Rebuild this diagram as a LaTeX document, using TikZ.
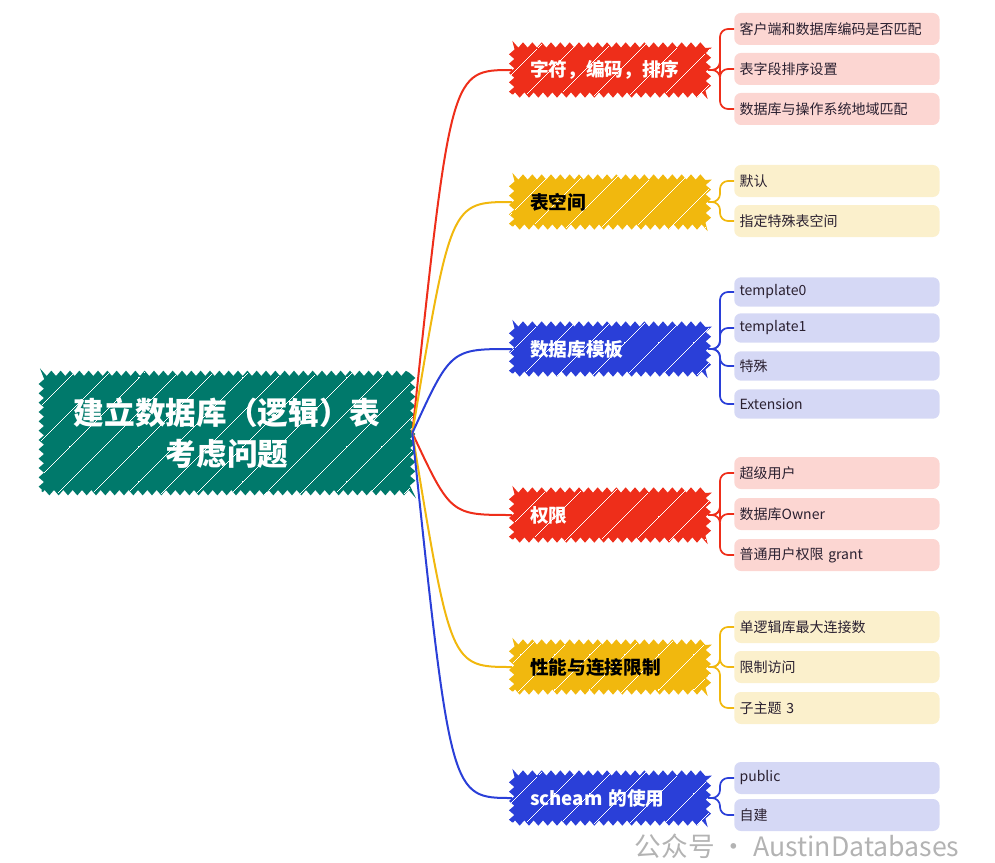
\documentclass[tikz,border=0pt]{standalone}
\usepackage{fontspec}
\setmainfont{Noto Sans CJK SC}
\usetikzlibrary{positioning,calc,decorations.pathmorphing,patterns.meta}

\definecolor{rootc}{HTML}{00796B}
\definecolor{redc}{HTML}{EE2E1A}
\definecolor{yelc}{HTML}{F1B80E}
\definecolor{bluc}{HTML}{2A3FD8}
\definecolor{redl}{HTML}{FCD6D2}
\definecolor{yell}{HTML}{FBF0CC}
\definecolor{blul}{HTML}{D5D8F5}
\definecolor{ink}{HTML}{2A2030}

\tikzdeclarepattern{name=strokes,type=uncolored,
  bounding box={(-1pt,-1pt) and (27pt,27pt)},tile size={(26pt,26pt)},
  line width=0.5pt,code={\draw (0,0)--(26pt,26pt);}}

\begin{document}
\begin{tikzpicture}[x=0.75pt,y=-0.75pt,
sketch/.style={decorate,decoration={zigzag,segment length=7pt,amplitude=2pt},fill=#1,draw=#1,line width=1pt,postaction={pattern=strokes,pattern color=white}},
topic/.style={sketch=#1,anchor=west,text width=120pt,inner xsep=13pt,minimum height=36pt,align=left,font=\bfseries\fontsize{14}{17}\selectfont,text=white},
leaf/.style={fill=#1,rounded corners=5pt,anchor=west,text width=146pt,inner xsep=4pt,minimum height=24pt,align=left,font=\fontsize{10.5}{12}\selectfont,text=ink},
edge/.style={line width=1.5pt,draw=#1},
twig/.style={line width=1.3pt,draw=#1,rounded corners=6pt}]
\useasboundingbox (0,0) rectangle (995,863);

% centre and main topics
\node[sketch=rootc,text=white,align=center,minimum width=277pt,minimum height=88pt,font=\bfseries\fontsize{23}{31}\selectfont] (root) at (227,433) {建立数据库（逻辑）表\\考虑问题};
\node[topic=redc] (charset) at (512,70) {字符，编码，排序};
\node[topic=yelc,text=black] (tbsp) at (512,202) {表空间};
\node[topic=bluc] (tmpl) at (512,349) {数据库模板};
\node[topic=redc] (priv) at (512,515) {权限};
\node[topic=yelc,text=black] (perf) at (512,667) {性能与连接限制};
\node[topic=bluc] (schema) at (512,798) {scheam 的使用};

% sub topics
\node[leaf=redl] (charset1) at (734,29) {客户端和数据库编码是否匹配};
\node[leaf=redl] (charset2) at (734,69) {表字段排序设置};
\node[leaf=redl] (charset3) at (734,109) {数据库与操作系统地域匹配};
\node[leaf=yell] (tbsp1) at (734,181) {默认};
\node[leaf=yell] (tbsp2) at (734,221) {指定特殊表空间};
\node[leaf=blul,minimum height=22pt] (tmpl1) at (734,292) {template0};
\node[leaf=blul,minimum height=22pt] (tmpl2) at (734,328) {template1};
\node[leaf=blul,minimum height=22pt] (tmpl3) at (734,366) {特殊};
\node[leaf=blul,minimum height=22pt] (tmpl4) at (734,404) {Extension};
\node[leaf=redl] (priv1) at (734,473) {超级用户};
\node[leaf=redl] (priv2) at (734,514) {数据库Owner};
\node[leaf=redl] (priv3) at (734,555) {普通用户权限 grant};
\node[leaf=yell] (perf1) at (734,627) {单逻辑库最大连接数};
\node[leaf=yell] (perf2) at (734,667) {限制访问};
\node[leaf=yell] (perf3) at (734,708) {子主题 3};
\node[leaf=blul] (schema1) at (734,778) {public};
\node[leaf=blul] (schema2) at (734,815) {自建};

\node[text=gray,opacity=0.6,anchor=east,font=\fontsize{20}{22}\selectfont] (mark) at (964,846) {公众号 · AustinDatabases};

% connectors
\foreach \t/\c in {charset/redc,tbsp/yelc,tmpl/bluc,priv/redc,perf/yelc,schema/bluc}
  \draw[edge=\c] (root.east) .. controls ($(\t.west)+(-46pt,0)$) .. (\t.west);
\foreach \t/\c/\n in {charset/redc/3,tbsp/yelc/2,tmpl/bluc/4,priv/redc/3,perf/yelc/3,schema/bluc/2}
  \foreach \i in {1,...,\n}
    \draw[twig=\c] (\t.east) -- ++(9pt,0) |- (\t\i.west);
\end{tikzpicture}
\end{document}
